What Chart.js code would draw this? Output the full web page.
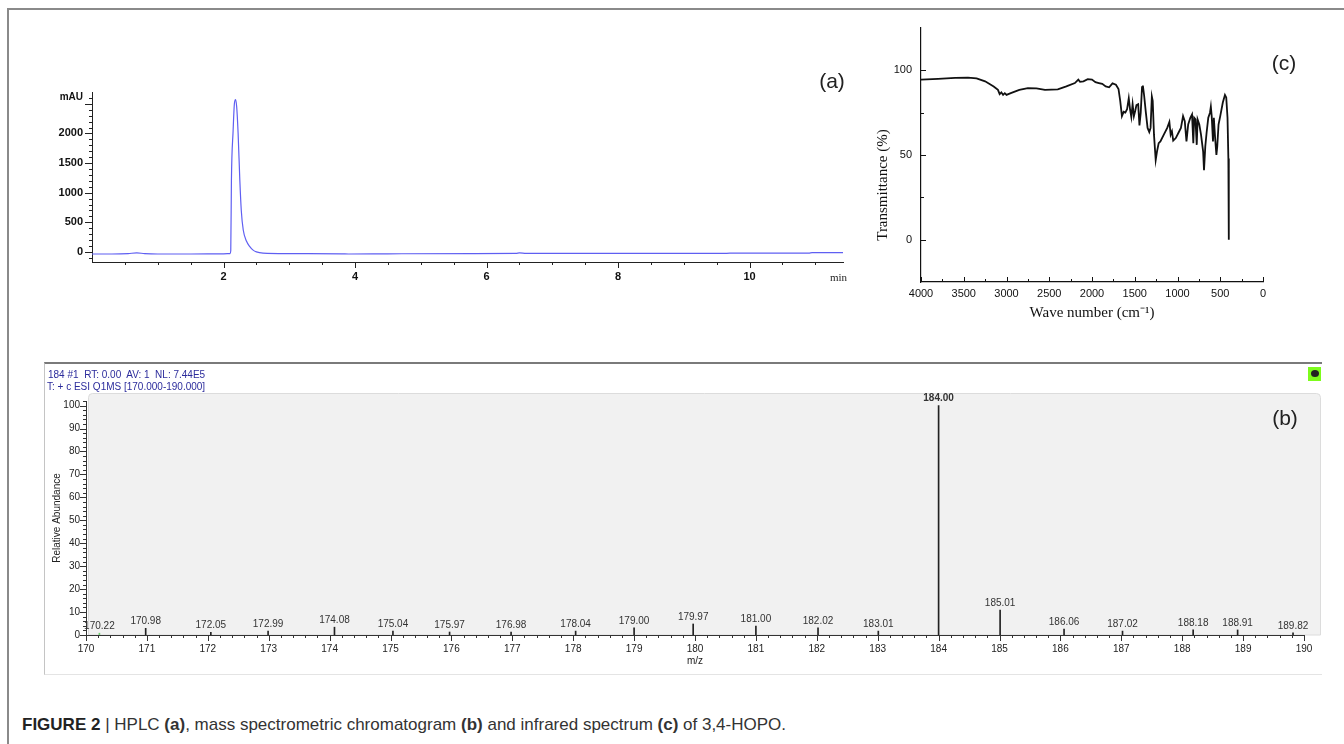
<!DOCTYPE html>
<html>
<head>
<meta charset="utf-8">
<script src="https://cdn.jsdelivr.net/npm/chart.js@4.4.1/dist/chart.umd.min.js"></script>
<style>
body{margin:0;background:#fff;width:1344px;height:744px;overflow:hidden;position:relative;font-family:Arial,"Liberation Sans",sans-serif}
.wrap{position:absolute}
.txt{position:absolute;white-space:pre;line-height:1}
.c{transform:translate(-50%,-50%)}
#frame{position:absolute;left:7px;top:8px;width:1400px;height:800px;border-top:2px solid #8a8a8a;border-left:2px solid #8a8a8a}
#msbox{position:absolute;left:44px;top:362px;width:1277px;height:310px;border-top:2px solid #7a7a7a;border-left:1px solid #c4c4c4;border-bottom:1px solid #e4e4e4}
#icon{position:absolute;left:1308px;top:367px;width:13px;height:14px;background:#7dfc1c}
#icon div{position:absolute;left:3px;top:3px;width:8px;height:7px;border-radius:50%;background:#222}
.panel{font-size:21px;color:#222}
#irytitle{left:882px;top:185px;font-size:15px;font-family:"Times New Roman","Liberation Serif",serif;color:#111;transform:translate(-50%,-50%) rotate(-90deg)}
</style>
</head>
<body>
<div id="frame"></div>
<div id="msbox"></div>

<div class="wrap" style="left:40px;top:60px;width:820px;height:240px"><canvas id="hplc"></canvas></div>
<div class="wrap" style="left:860px;top:10px;width:420px;height:320px"><canvas id="ir"></canvas></div>
<div class="wrap" style="left:44px;top:363px;width:1278px;height:310px"><canvas id="ms"></canvas></div>

<div class="txt" style="right:1261px;top:92px;font-size:10px;font-weight:bold;color:#111">mAU</div>
<div class="txt" style="left:830px;top:272px;font-size:11px;font-family:'Times New Roman','Liberation Serif',serif;color:#222">min</div>
<div class="txt" id="irytitle">Transmittance (%)</div>
<div class="txt panel c" style="left:832px;top:80px">(a)</div>
<div class="txt panel c" style="left:1284px;top:62px">(c)</div>
<div class="txt panel c" style="left:1285px;top:417px">(b)</div>

<div class="txt" style="left:48px;top:370px;font-size:10px;color:#2c2c9c">184 #1  RT: 0.00  AV: 1  NL: 7.44E5</div>
<div class="txt" style="left:47px;top:382px;font-size:10px;color:#2c2c9c">T: + c ESI Q1MS [170.000-190.000]</div>
<div id="icon"><div></div></div>

<div class="txt" style="left:22px;top:716px;font-size:17px;color:#333"><b style="color:#222">FIGURE 2</b> | HPLC <b>(a)</b>, mass spectrometric chromatogram <b>(b)</b> and infrared spectrum <b>(c)</b> of 3,4-HOPO.</div>

<script>
// HPLC (a)
const hplcTime = [0, 0.3, 0.55, 0.68, 0.8, 1.0, 1.5, 2.0, 2.1, 2.11, 2.12, 2.146, 2.165, 2.183, 2.2, 2.222, 2.248, 2.27, 2.3, 2.35, 2.4, 2.45, 2.5, 2.6, 3.0, 3.8, 3.9, 4.5, 5.8, 6.45, 6.5, 6.6, 8.0, 9.6, 9.7, 10.9, 10.95, 11.42]
const hplcMAU = [-35, -35, -28, -15, -28, -35, -35, -32, -28, 20, 1200, 2050, 2500, 2570, 2450, 2000, 1210, 700, 370, 180, 90, 30, 0, -20, -28, -32, -35, -32, -28, -26, -15, -26, -26, -26, -20, -20, -12, -12]
const hplcXLabels = [2, 4, 6, 8, 10]
const hplcYLabels = [0, 500, 1000, 1500, 2000]

// IR (c)
const irWave = [4000, 3800, 3600, 3450, 3350, 3250, 3150, 3100, 3080, 3060, 3040, 3020, 3000, 2950, 2850, 2750, 2650, 2550, 2400, 2300, 2200, 2160, 2140, 2100, 2050, 2000, 1960, 1920, 1880, 1840, 1800, 1760, 1720, 1690, 1670, 1650, 1630, 1610, 1590, 1570, 1555, 1540, 1525, 1510, 1495, 1480, 1460, 1445, 1430, 1415, 1405, 1390, 1370, 1350, 1330, 1315, 1300, 1290, 1275, 1255, 1240, 1220, 1200, 1160, 1120, 1095, 1080, 1065, 1050, 1020, 990, 960, 935, 915, 895, 875, 850, 830, 815, 805, 790, 775, 765, 745, 725, 700, 690, 675, 660, 640, 620, 610, 600, 585, 575, 560, 545, 535, 520, 500, 470, 445, 430, 415, 405, 400]
const irTrans = [94.5, 95, 95.5, 95.7, 95.3, 93.5, 90.5, 88.5, 86, 87, 85.5, 86.5, 85.5, 86.5, 88.5, 89.5, 89.3, 88.5, 88.7, 90.5, 92.5, 94.5, 93.2, 93.5, 94.8, 94.5, 93, 92.5, 92, 90.5, 90, 92.3, 91.5, 89, 82, 73, 75.5, 75, 77, 83.5, 77, 72.5, 80, 73, 76, 79.5, 80, 67.5, 75, 90, 91, 85, 75, 66, 63.5, 66, 84.5, 82, 62, 47, 52, 57, 58, 62, 66, 69.5, 62, 64, 58.5, 60, 63, 66, 73, 70, 58, 68, 72, 74, 57, 72, 71, 56, 71, 68, 62, 52, 41, 55, 63, 72, 75, 78.5, 73, 58, 72, 60, 50, 55, 68, 73, 81, 85.5, 84, 72, 48, 0]
const irXLabels = [4000, 3500, 3000, 2500, 2000, 1500, 1000, 500, 0]
const irYLabels = [0, 50, 100]

// Mass spectrum (b)
const msMz = [170.22, 170.98, 172.05, 172.99, 174.08, 175.04, 175.97, 176.98, 178.04, 179.00, 179.97, 181.00, 182.02, 183.01, 184.00, 185.01, 186.06, 187.02, 188.18, 188.91, 189.82]
const msAbund = [0.8, 2.9, 1.2, 1.7, 3.4, 1.7, 1.3, 1.3, 1.7, 3.1, 4.8, 3.9, 3.1, 1.7, 100, 10.9, 2.6, 1.7, 2.2, 2.2, 0.9]
const msXLabels = [170, 171, 172, 173, 174, 175, 176, 177, 178, 179, 180, 181, 182, 183, 184, 185, 186, 187, 188, 189, 190]
const msYLabels = [0, 10, 20, 30, 40, 50, 60, 70, 80, 90, 100]

const ARIAL = 'Arial, "Liberation Sans", sans-serif'
const TIMES = '"Times New Roman", "Liberation Serif", serif'

Chart.defaults.animation = false
Chart.defaults.events = []
Chart.defaults.plugins.legend.display = false
Chart.defaults.plugins.tooltip.enabled = false

const steps = (a, b, st) => {
    const out = []
    for (let i = 0; a + i * st <= b + 1e-9; i++) out.push(+(a + i * st).toFixed(3))
    return out
}
const isMult = (v, m) => Math.abs(v / m - Math.round(v / m)) < 1e-6
const setTicks = vals => s => { s.ticks = vals.map(v => ({ value: v })) }

// draws major/minor tick marks, outward or inward
const tickPlugin = cfg => ({
    id: 'tickMarks',
    afterDraw(chart) {
        const ctx = chart.ctx
        ctx.save()
        ctx.strokeStyle = cfg.color
        ctx.lineWidth = 1
        Object.keys(cfg.axes).forEach(id => {
            const a = cfg.axes[id]
            const s = chart.scales[id]
            const dir = a.inward ? -1 : 1
            s.ticks.forEach(t => {
                const len = isMult(t.value, a.major) ? a.majorLen : a.minorLen
                const p = Math.round(s.getPixelForValue(t.value)) + 0.5
                ctx.beginPath()
                if (s.isHorizontal()) {
                    ctx.moveTo(p, s.top)
                    ctx.lineTo(p, s.top + dir * len)
                } else {
                    ctx.moveTo(s.right, p)
                    ctx.lineTo(s.right - dir * len, p)
                }
                ctx.stroke()
            })
        })
        ctx.restore()
    }
})

//HPLC
new Chart(document.getElementById('hplc'), {
    type: 'line',
    data: {
        datasets: [{
            data: hplcTime.map((t, i) => ({ x: t, y: hplcMAU[i] })),
            borderColor: '#5f5ff2',
            borderWidth: 1.2,
            pointRadius: 0,
            cubicInterpolationMode: 'monotone'
        }]
    },
    options: {
        responsive: true,
        maintainAspectRatio: false,
        layout: { padding: { top: 32, right: 17, left: 0, bottom: 0 } },
        scales: {
            x: {
                type: 'linear', min: 0, max: 11.42,
                grid: { display: false, drawTicks: false },
                border: { color: '#222' },
                afterBuildTicks: setTicks(steps(0.5, 11, 0.5)),
                afterFit: s => { s.height = 38 },
                ticks: {
                    autoSkip: false, maxRotation: 0, padding: 8, color: '#111',
                    font: { family: ARIAL, size: 11, weight: 'bold' },
                    callback: v => hplcXLabels.includes(v) ? String(v) : ''
                }
            },
            y: {
                min: -170, max: 2700,
                grid: { display: false, drawTicks: false },
                border: { color: '#222' },
                afterBuildTicks: setTicks(steps(-100, 2600, 100)),
                afterFit: s => { s.width = 52 },
                ticks: {
                    autoSkip: false, padding: 9, color: '#111',
                    font: { family: ARIAL, size: 11, weight: 'bold' },
                    callback: v => hplcYLabels.includes(v) ? String(v) : ''
                }
            }
        }
    },
    plugins: [tickPlugin({
        color: '#222',
        axes: {
            x: { major: 2, majorLen: 6, minorLen: 3 },
            y: { major: 500, majorLen: 7, minorLen: 3 }
        }
    })]
})

//IR
new Chart(document.getElementById('ir'), {
    type: 'line',
    data: {
        datasets: [{
            data: irWave.map((w, i) => ({ x: w, y: irTrans[i] })),
            borderColor: '#111',
            borderWidth: 1.8,
            pointRadius: 0
        }]
    },
    options: {
        responsive: true,
        maintainAspectRatio: false,
        layout: { padding: { top: 18, right: 17, left: 0, bottom: 0 } },
        scales: {
            x: {
                type: 'linear', min: 0, max: 4000, reverse: true,
                grid: { display: false, drawTicks: false },
                border: { color: '#111', width: 1.2 },
                afterBuildTicks: setTicks(steps(0, 4000, 250)),
                afterFit: s => { s.height = 48 },
                ticks: {
                    autoSkip: false, maxRotation: 0, padding: 5, color: '#111',
                    font: { family: ARIAL, size: 11 },
                    callback: v => irXLabels.includes(v) ? String(v) : ''
                },
                title: {
                    display: true, text: 'Wave number (cm\u207B\u00B9)', color: '#111',
                    font: { family: TIMES, size: 15 },
                    padding: { top: 0, bottom: 8 }
                }
            },
            y: {
                min: -25, max: 125,
                grid: { display: false, drawTicks: false },
                border: { color: '#111', width: 1.2 },
                afterBuildTicks: setTicks(steps(0, 100, 25)),
                afterFit: s => { s.width = 61 },
                ticks: {
                    autoSkip: false, padding: 9, color: '#111',
                    font: { family: ARIAL, size: 11 },
                    callback: v => irYLabels.includes(v) ? String(v) : ''
                }
            }
        }
    },
    plugins: [tickPlugin({
        color: '#111',
        axes: {
            x: { major: 500, majorLen: 5, minorLen: 3, inward: true },
            y: { major: 50, majorLen: 5, minorLen: 3, inward: true }
        }
    })]
})

//mass spectrum
const grayBox = {
    id: 'grayBox',
    beforeDraw(chart) {
        const a = chart.chartArea
        const ctx = chart.ctx
        ctx.save()
        ctx.fillStyle = '#f1f1f1'
        ctx.strokeStyle = '#dcdcdc'
        ctx.beginPath()
        ctx.roundRect(a.left + 2.5, a.top - 7.5, a.right + 16 - a.left - 2, a.bottom - a.top + 7.5, [4, 4, 0, 0])
        ctx.fill()
        ctx.stroke()
        ctx.restore()
    }
}
const peakLabels = {
    id: 'peakLabels',
    afterDatasetsDraw(chart) {
        const ctx = chart.ctx
        const xs = chart.scales.x
        const ys = chart.scales.y
        const top = Math.max(...msAbund)
        ctx.save()
        ctx.fillStyle = '#333'
        ctx.textAlign = 'center'
        ctx.textBaseline = 'bottom'
        msMz.forEach((mz, i) => {
            ctx.font = (msAbund[i] === top ? 'bold ' : '') + '10px ' + ARIAL
            ctx.fillText(mz.toFixed(2), xs.getPixelForValue(mz), ys.getPixelForValue(msAbund[i]) - 2)
        })
        ctx.restore()
    }
}

new Chart(document.getElementById('ms'), {
    type: 'bar',
    data: {
        datasets: [{
            data: msMz.map((mz, i) => ({ x: mz, y: msAbund[i] })),
            backgroundColor: msMz.map((mz, i) => i === 0 ? '#6fcf6f' : '#222'),
            barThickness: 1,
            borderWidth: 0
        }]
    },
    options: {
        responsive: true,
        maintainAspectRatio: false,
        layout: { padding: { top: 38, right: 18, left: 0, bottom: 0 } },
        scales: {
            x: {
                type: 'linear', min: 170, max: 190, offset: false,
                grid: { display: false, drawTicks: false, offset: false },
                border: { color: '#333' },
                afterBuildTicks: setTicks(steps(170, 190, 0.2)),
                afterFit: s => { s.height = 38 },
                ticks: {
                    autoSkip: false, maxRotation: 0, padding: 8, color: '#222',
                    font: { family: ARIAL, size: 10 },
                    callback: v => msXLabels.includes(v) ? String(v) : ''
                },
                title: {
                    display: true, text: 'm/z', color: '#222',
                    font: { family: ARIAL, size: 10 },
                    padding: { top: 0, bottom: 6 }
                }
            },
            y: {
                min: 0, max: 102,
                grid: { display: false, drawTicks: false },
                border: { color: '#333' },
                afterBuildTicks: setTicks(steps(0, 102, 2)),
                afterFit: s => { s.width = 42 },
                ticks: {
                    autoSkip: false, padding: 6, color: '#222',
                    font: { family: ARIAL, size: 10 },
                    callback: v => msYLabels.includes(v) ? String(v) : ''
                },
                title: {
                    display: true, text: 'Relative Abundance', color: '#222',
                    font: { family: ARIAL, size: 10 },
                    padding: { top: 7, bottom: 0 }
                }
            }
        }
    },
    plugins: [grayBox, peakLabels, tickPlugin({
        color: '#333',
        axes: {
            x: { major: 1, majorLen: 6, minorLen: 3 },
            y: { major: 10, majorLen: 6, minorLen: 3 }
        }
    })]
})
</script>
</body>
</html>
